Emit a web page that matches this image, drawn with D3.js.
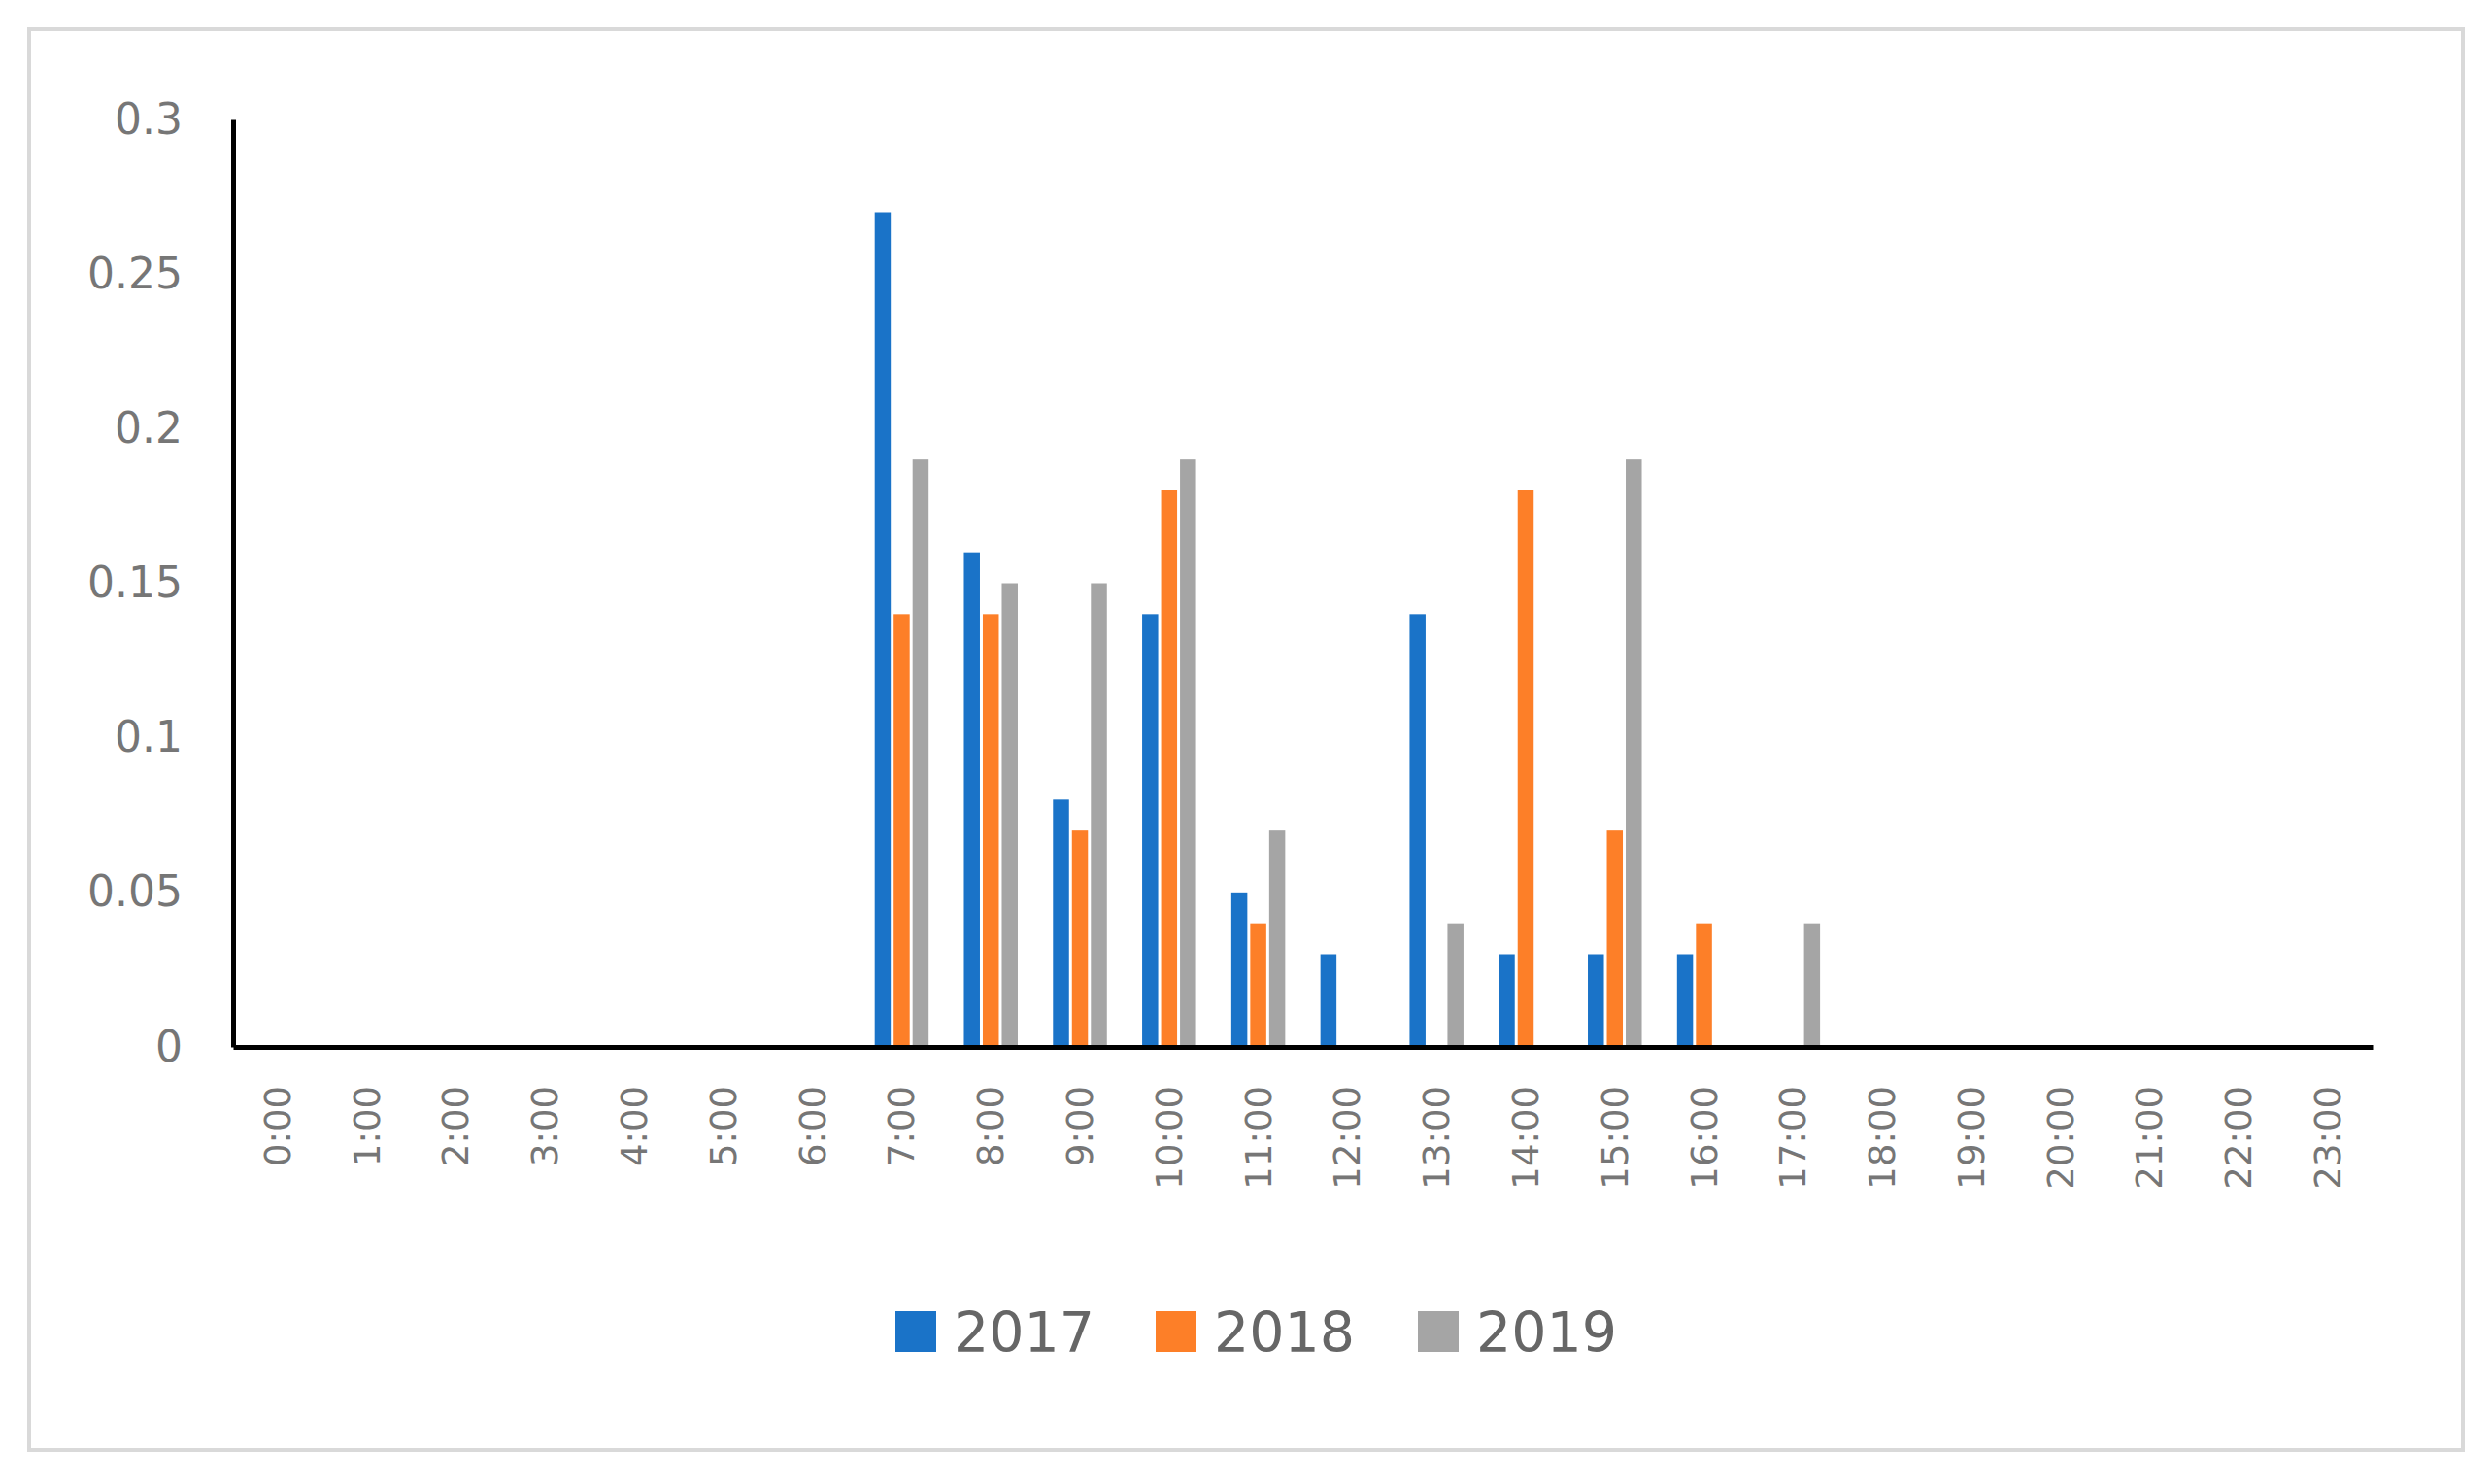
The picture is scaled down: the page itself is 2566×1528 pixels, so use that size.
<!DOCTYPE html><html><head><meta charset="utf-8"><script src="https://cdn.jsdelivr.net/npm/d3@7"></script>
<style>body{margin:0;background:#fff}</style></head><body><svg id="c" width="2566" height="1528"></svg>
<script>
const hours = d3.range(24).map(h => h + ":00");
const seriesNames = ["2017","2018","2019"];
const colors = ["#1a73c8","#fd7f28","#a5a5a5"];
const v2017 = [0,0,0,0,0,0,0,0.27,0.16,0.08,0.14,0.05,0.03,0.14,0.03,0.03,0.03,0,0,0,0,0,0,0];
const v2018 = [0,0,0,0,0,0,0,0.14,0.14,0.07,0.18,0.04,0,0,0.18,0.07,0.04,0,0,0,0,0,0,0];
const v2019 = [0,0,0,0,0,0,0,0.19,0.15,0.15,0.19,0.07,0,0.04,0,0.19,0,0.04,0,0,0,0,0,0];
const yTicks = [0,0.05,0.1,0.15,0.2,0.25,0.3];
const vals = [v2017,v2018,v2019];
const F = "DejaVu Sans, sans-serif";
const svg = d3.select("#c");
svg.append("rect").attr("x",30).attr("y",30).attr("width",2506).attr("height",1463).attr("fill","#fff").attr("stroke","#d9d9d9").attr("stroke-width",4);
const L=240,R=2443,T=123,B=1078;
const x = d3.scaleBand().domain(hours).range([L,R]);
const y = d3.scaleLinear().domain([0,0.3]).range([B,T]);
const bw=16.5, gap=3;
vals.forEach((arr,si)=>{
  svg.append("g").selectAll("rect").data(arr.map((v,i)=>({v,h:hours[i]})).filter(d=>d.v>0)).join("rect")
    .attr("x",d=>x(d.h)+x.bandwidth()/2-1.5*bw-gap+si*(bw+gap)).attr("width",bw)
    .attr("y",d=>y(d.v)).attr("height",d=>B-y(d.v)).attr("fill",colors[si]);
});
const ya = svg.append("g").attr("transform",`translate(${L},0)`).call(d3.axisLeft(y).tickValues(yTicks).tickSize(0).tickPadding(0).tickFormat(d=>d===0?"0":String(d)));
ya.select(".domain").attr("stroke","#000").attr("stroke-width",5);
ya.selectAll("text").attr("x",-52).attr("font-family",F).attr("font-size",44).attr("fill","#767676");
const xa = svg.append("g").attr("transform",`translate(0,${B})`).call(d3.axisBottom(x).tickSize(0));
xa.select(".domain").attr("stroke","#000").attr("stroke-width",5);
xa.selectAll("text").attr("transform","rotate(-90)").attr("text-anchor","end").attr("x",-40).attr("y",0).attr("dy","0.35em")
  .attr("font-family",F).attr("font-size",37).attr("fill","#767676");
const lx=[922,1190,1460];
seriesNames.forEach((n,i)=>{
  svg.append("rect").attr("x",lx[i]).attr("y",1350).attr("width",42).attr("height",42).attr("fill",colors[i]);
  svg.append("text").attr("x",lx[i]+60).attr("y",1371).attr("dy","0.36em").attr("font-family",F).attr("font-size",57).attr("fill","#666").text(n);
});
</script></body></html>
